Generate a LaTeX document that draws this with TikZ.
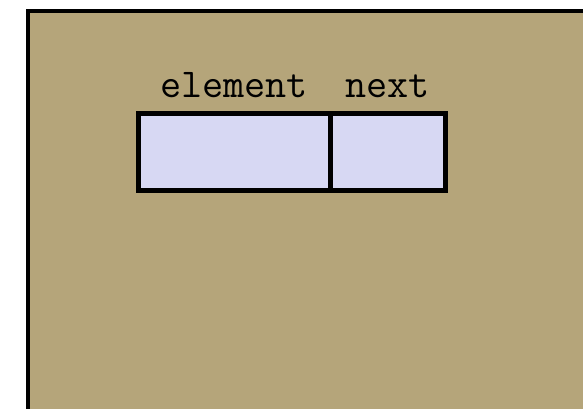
\documentclass[tikz,border=0pt]{standalone}
\usetikzlibrary{positioning}

\definecolor{frametan}{RGB}{181,165,122}
\definecolor{celllav}{RGB}{215,216,243}

\begin{document}
\begin{tikzpicture}[
    x=1pt, y=1pt,
    frame/.style={draw=black, line width=4pt, fill=frametan},
    cell/.style={draw=black, line width=5pt, fill=celllav, minimum height=77pt,
                 inner sep=0pt, outer sep=0pt},
    fieldname/.style={font=\ttfamily\fontsize{41}{45}\selectfont, anchor=base,
                      inner sep=0pt},
]
\useasboundingbox (0,0) rectangle (583,409);
\clip (0,0) rectangle (583,409);

% Outer frame (runs off the page to the right and bottom)
\draw[frame] (27.5,397.5) rectangle (620,-30);

% Node cells
\node[cell, minimum width=192pt] (element) at (234,256.5) {};
\node[cell, minimum width=115pt, right=0pt of element] (next) {};

% Field names
\node[fieldname] (elementname) at ([yshift=16pt]element.north) {element};
\node[fieldname] (nextname) at ([yshift=16pt]next.north) {next};
\end{tikzpicture}
\end{document}
